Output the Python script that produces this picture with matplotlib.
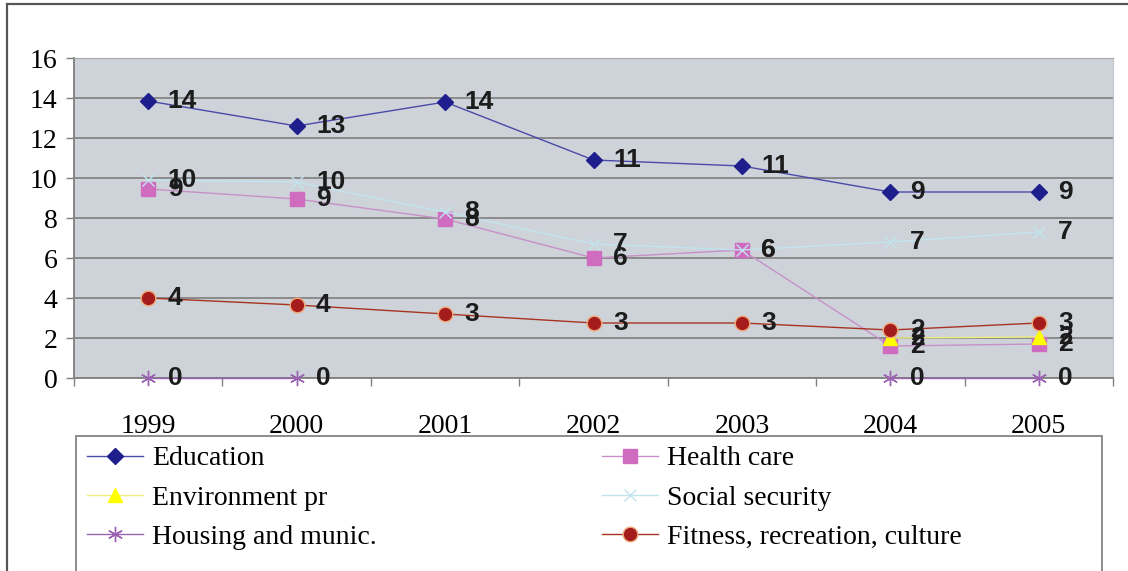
import numpy as np
import matplotlib
matplotlib.use("Agg")
import matplotlib.pyplot as plt
from matplotlib.patches import Rectangle

years = ["1999", "2000", "2001", "2002", "2003", "2004", "2005"]
education = [13.85, 12.6, 13.8, 10.9, 10.6, 9.3, 9.3]
health_care = [9.45, 8.95, 7.95, 6.0, 6.4, 1.6, 1.7]
environment = [np.nan, np.nan, np.nan, np.nan, np.nan, 2.0, 2.05]
social_security = [9.9, 9.8, 8.3, 6.7, 6.4, 6.8, 7.3]
housing = [0, 0, np.nan, np.nan, np.nan, 0, 0]
fitness = [4.0, 3.65, 3.2, 2.75, 2.75, 2.4, 2.75]

series = [
    ("Education", education, dict(color="#4a4aa8", marker="D", ms=8, mfc="#1e1e8c", mec="#1e1e8c")),
    ("Health care", health_care, dict(color="#c890c8", marker="s", ms=9.5, mfc="#d06cc0", mec="#d06cc0")),
    ("Environment pr", environment, dict(color="#f0f080", marker="^", ms=9.5, mfc="#ffff00", mec="#ffff00")),
    ("Social security", social_security, dict(color="#c2e4ee", marker="x", ms=8, mfc="#c2e4ee", mec="#c2e4ee", mew=1)),
    ("Housing and munic.", housing, dict(color="#9a62b0", marker=(6, 2, 0), ms=11, mfc="#9a62b0", mec="#9a62b0", mew=1)),
    ("Fitness, recreation, culture", fitness, dict(color="#a83420", marker="o", ms=10.5, mfc="#a51c1c", mec="#f0a878", mew=1)),
]

W, H = 1128, 571
plt.rcParams["font.family"] = ["Liberation Serif", "DejaVu Serif"]
fig = plt.figure(figsize=(W / 100, H / 100), dpi=100)
ax = fig.add_axes([74 / W, 1 - 378 / H, (1113 - 74) / W, (378 - 58) / H])
ax.set_facecolor("#cdd3d9")

x = np.arange(len(years)) + 0.5
handles = {}
for z, (name, vals, style) in enumerate(series):
    ln, = ax.plot(x, vals, lw=1.0, zorder=3 + z, clip_on=False, label=name, **style)
    handles[name] = ln

# value labels on top of every series
for name, vals, style in series:
    for xi, v in zip(x, vals):
        if np.isnan(v):
            continue
        ax.annotate(f"{v:.0f}", (xi, v), xytext=(14, 0), textcoords="offset points",
                    ha="left", va="center", fontsize=19, fontweight="bold",
                    family="Liberation Sans", color="#1c1c1c", zorder=20,
                    annotation_clip=False)

ax.set_xlim(0, len(years))
ax.set_ylim(0, 16)
ax.set_yticks(range(0, 17, 2))
ax.yaxis.grid(True, color="#858585", lw=1.3)
ax.set_axisbelow(True)
ax.tick_params(axis="y", labelsize=20, length=6, color="#808080", width=1, pad=6)

ax.set_xticks(x)
ax.set_xticklabels(years)
ax.set_xticks(np.arange(len(years) + 1), minor=True)
ax.tick_params(axis="x", which="major", length=0, labelsize=20, pad=26)
ax.tick_params(axis="x", which="minor", length=6, color="#808080", width=1)

for side in ("left", "bottom"):
    ax.spines[side].set_color("#808080")
    ax.spines[side].set_linewidth(1.3)
ax.spines["top"].set_color("#a8a8a8")
ax.spines["right"].set_color("#c0c6cc")

# outer frame and legend box
fig.patches.append(Rectangle((7 / W, -0.1), 1.2, 1 - 4 / H + 0.1, transform=fig.transFigure,
                             fill=False, ec="#555555", lw=1.6))
fig.patches.append(Rectangle((76 / W, -0.1), (1102 - 76) / W, 1 - 436 / H + 0.1,
                             transform=fig.transFigure, fill=False, ec="#8c8c8c", lw=1.4))

legend_cols = [
    (["Education", "Environment pr", "Housing and munic."], 87),
    (["Health care", "Social security", "Fitness, recreation, culture"], 602),
]
for names, left in legend_cols:
    leg = fig.legend([handles[n] for n in names], names, loc="upper left",
                     bbox_to_anchor=(left / W, 1 - 446 / H), frameon=False,
                     fontsize=20, numpoints=1, handlelength=2.0, handletextpad=0.35,
                     labelspacing=0.5, borderpad=0, borderaxespad=0)

fig.savefig("out.png", dpi=100)
